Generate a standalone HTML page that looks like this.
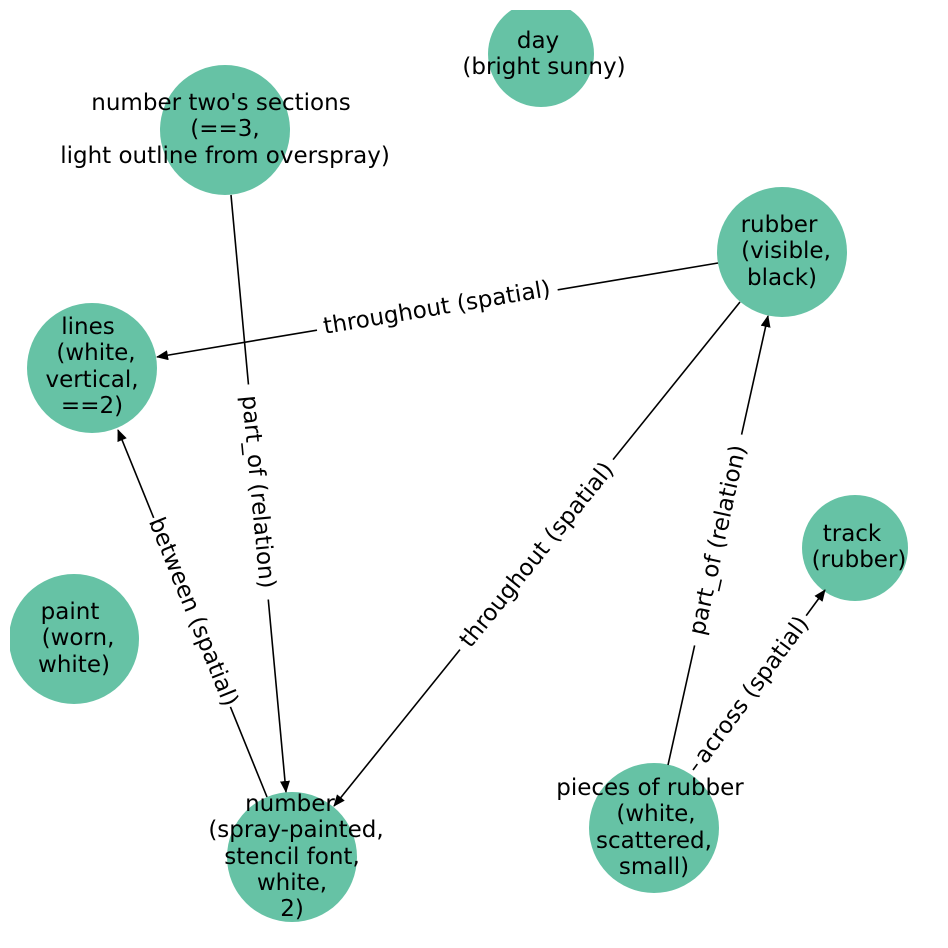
<!DOCTYPE html>
<html><head><meta charset="utf-8"><style>
html,body{margin:0;padding:0;background:#fff;overflow:hidden;}
svg{display:block;}
svg text{font-family:"DejaVu Sans","Liberation Sans",sans-serif;font-size:23px;fill:#000;}
</style></head><body>
<svg width="948" height="948" viewBox="0 0 948 948" xmlns="http://www.w3.org/2000/svg">
<defs>
<clipPath id="c"><rect x="10" y="10" width="898" height="928"/></clipPath>
<marker id="a" markerWidth="12" markerHeight="10" refX="11" refY="5" orient="auto" markerUnits="userSpaceOnUse">
<path d="M0,0 L12,5 L0,10 z" fill="#000"/></marker>
</defs>
<g clip-path="url(#c)" fill="#66c2a5">
<circle cx="541" cy="54" r="53"/>
<circle cx="225" cy="130" r="65"/>
<circle cx="782" cy="252" r="65"/>
<circle cx="92" cy="368" r="65"/>
<circle cx="855" cy="548" r="53"/>
<circle cx="74" cy="639" r="65"/>
<circle cx="292" cy="857" r="65"/>
<circle cx="654" cy="828" r="65"/>
</g>
<g stroke="#000" stroke-width="1.6" fill="none">
<line x1="718" y1="263" x2="157" y2="357" marker-end="url(#a)"/>
<line x1="231" y1="195" x2="286" y2="792" marker-end="url(#a)"/>
<line x1="267" y1="797" x2="118" y2="430" marker-end="url(#a)"/>
<line x1="740" y1="302" x2="334" y2="806" marker-end="url(#a)"/>
<line x1="668" y1="765" x2="768" y2="316" marker-end="url(#a)"/>
<line x1="693" y1="770" x2="825" y2="590" marker-end="url(#a)"/>
</g>
<g text-anchor="middle" dominant-baseline="central">
<g transform="translate(437,308) rotate(-9.5)"><rect x="-122" y="-15" width="244" height="30" fill="#fff"/><text>throughout (spatial)</text></g>
<g transform="translate(258,492) rotate(84.7)"><rect x="-108" y="-15" width="216" height="30" fill="#fff"/><text>part_of (relation)</text></g>
<g transform="translate(193,612) rotate(67.9)"><rect x="-102" y="-15" width="204" height="30" fill="#fff"/><text>between (spatial)</text></g>
<g transform="translate(537,555) rotate(-51.1)"><rect x="-122" y="-15" width="244" height="30" fill="#fff"/><text>throughout (spatial)</text></g>
<g transform="translate(718,540) rotate(-77.5)"><rect x="-108" y="-15" width="216" height="30" fill="#fff"/><text>part_of (relation)</text></g>
<g transform="translate(752,690) rotate(-53.7)"><rect x="-92" y="-15" width="184" height="30" fill="#fff"/><text>across (spatial)</text></g>
</g>
<g text-anchor="middle">
<text x="538" y="48">day</text><text x="544" y="74">(bright sunny)</text>
<text x="221" y="110">number two's sections</text><text x="225" y="136">(==3,</text><text x="225" y="163">light outline from overspray)</text>
<text x="779" y="232">rubber</text><text x="786" y="258">(visible,</text><text x="782" y="285">black)</text>
<text x="88" y="334">lines</text><text x="96" y="360">(white,</text><text x="92" y="387">vertical,</text><text x="92" y="413">==2)</text>
<text x="852" y="541">track</text><text x="859" y="567">(rubber)</text>
<text x="70" y="619">paint</text><text x="78" y="645">(worn,</text><text x="74" y="672">white)</text>
<text x="290" y="811">number</text><text x="296" y="837">(spray-painted,</text><text x="292" y="864">stencil font,</text><text x="292" y="890">white,</text><text x="292" y="916">2)</text>
<text x="650" y="795">pieces of rubber</text><text x="656" y="821">(white,</text><text x="654" y="848">scattered,</text><text x="654" y="874">small)</text>
</g>
</svg>
</body></html>
